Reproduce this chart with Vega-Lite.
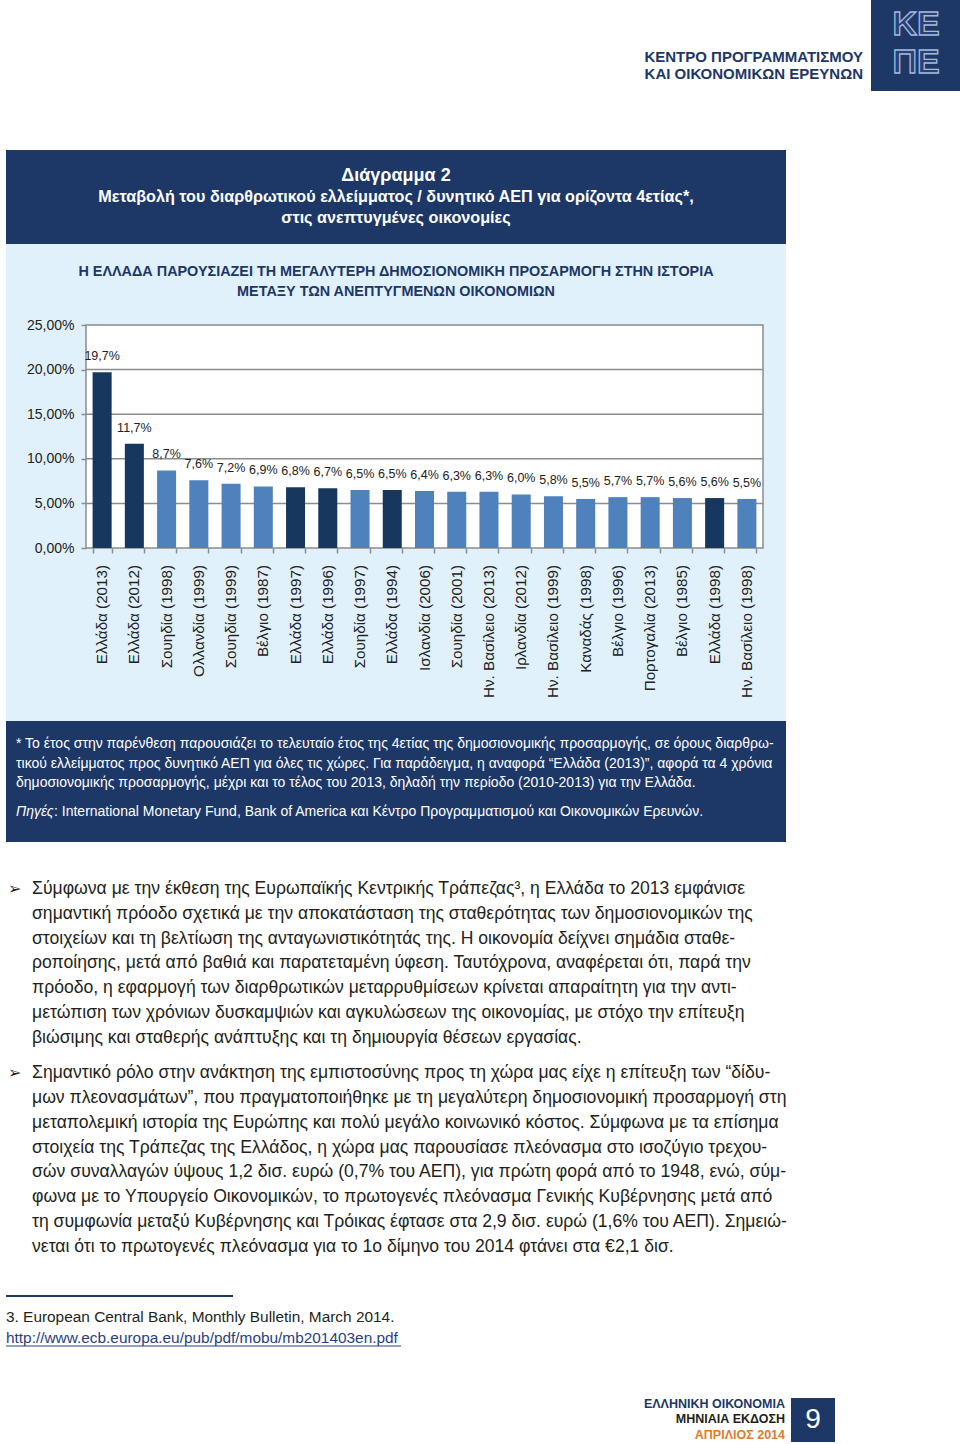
{
  "$schema": "https://vega.github.io/schema/vega-lite/v6.json",
  "background": "white",
  "padding": {"left": 5, "top": 0, "right": 0, "bottom": 0},
  "config": {
    "view": {"stroke": null},
    "concat": {"spacing": 0},
    "font": "Liberation Sans",
    "locale": {"number": {"decimal": ",", "thousands": ".", "grouping": [3], "currency": ["", " €"]}}
  },
  "datasets": {
    "org": [
      {"line": 1, "text": "ΚΕΝΤΡΟ ΠΡΟΓΡΑΜΜΑΤΙΣΜΟΥ"},
      {"line": 2, "text": "ΚΑΙ ΟΙΚΟΝΟΜΙΚΩΝ ΕΡΕΥΝΩΝ"}
    ],
    "logo": [
      {"line": 1, "text": "ΚΕ"},
      {"line": 2, "text": "ΠΕ"}
    ],
    "header": [
      {"line": 1, "text": "Διάγραμμα 2"},
      {"line": 2, "text": "Μεταβολή του διαρθρωτικού ελλείμματος / δυνητικό ΑΕΠ για ορίζοντα 4ετίας*,"},
      {"line": 3, "text": "στις ανεπτυγμένες οικονομίες"}
    ],
    "subtitle": [
      {"line": 1, "text": "Η ΕΛΛΑΔΑ ΠΑΡΟΥΣΙΑΖΕΙ ΤΗ ΜΕΓΑΛΥΤΕΡΗ ΔΗΜΟΣΙΟΝΟΜΙΚΗ ΠΡΟΣΑΡΜΟΓΗ ΣΤΗΝ ΙΣΤΟΡΙΑ"},
      {"line": 2, "text": "ΜΕΤΑΞΥ ΤΩΝ ΑΝΕΠΤΥΓΜΕΝΩΝ ΟΙΚΟΝΟΜΙΩΝ"}
    ],
    "gridvals": [
      {"value": 0.05},
      {"value": 0.1},
      {"value": 0.15},
      {"value": 0.2}
    ],
    "bars": [
      {"label": "Ελλάδα (2013)", "value": 0.197, "group": "Ελλάδα"},
      {"label": "Ελλάδα (2012)", "value": 0.117, "group": "Ελλάδα"},
      {"label": "Σουηδία (1998)", "value": 0.087, "group": "Άλλες χώρες"},
      {"label": "Ολλανδία (1999)", "value": 0.076, "group": "Άλλες χώρες"},
      {"label": "Σουηδία (1999)", "value": 0.072, "group": "Άλλες χώρες"},
      {"label": "Βέλγιο (1987)", "value": 0.069, "group": "Άλλες χώρες"},
      {"label": "Ελλάδα (1997)", "value": 0.068, "group": "Ελλάδα"},
      {"label": "Ελλάδα (1996)", "value": 0.067, "group": "Ελλάδα"},
      {"label": "Σουηδία (1997)", "value": 0.065, "group": "Άλλες χώρες"},
      {"label": "Ελλάδα (1994)", "value": 0.065, "group": "Ελλάδα"},
      {"label": "Ισλανδία (2006)", "value": 0.064, "group": "Άλλες χώρες"},
      {"label": "Σουηδία (2001)", "value": 0.063, "group": "Άλλες χώρες"},
      {"label": "Ην. Βασίλειο (2013)", "value": 0.063, "group": "Άλλες χώρες"},
      {"label": "Ιρλανδία (2012)", "value": 0.060, "group": "Άλλες χώρες"},
      {"label": "Ην. Βασίλειο (1999)", "value": 0.058, "group": "Άλλες χώρες"},
      {"label": "Καναδάς (1998)", "value": 0.055, "group": "Άλλες χώρες"},
      {"label": "Βέλγιο (1996)", "value": 0.057, "group": "Άλλες χώρες"},
      {"label": "Πορτογαλία (2013)", "value": 0.057, "group": "Άλλες χώρες"},
      {"label": "Βέλγιο (1985)", "value": 0.056, "group": "Άλλες χώρες"},
      {"label": "Ελλάδα (1998)", "value": 0.056, "group": "Ελλάδα"},
      {"label": "Ην. Βασίλειο (1998)", "value": 0.055, "group": "Άλλες χώρες"}
    ],
    "notes": [
      {"line": 1, "text": "* Το έτος στην παρένθεση παρουσιάζει το τελευταίο έτος της 4ετίας της δημοσιονομικής προσαρμογής, σε όρους διαρθρω-"},
      {"line": 2, "text": "τικού ελλείμματος προς δυνητικό ΑΕΠ για όλες τις χώρες. Για παράδειγμα, η αναφορά “Ελλάδα (2013)”, αφορά τα 4 χρόνια"},
      {"line": 3, "text": "δημοσιονομικής προσαρμογής, μέχρι και το τέλος του 2013, δηλαδή την περίοδο (2010-2013) για την Ελλάδα."}
    ],
    "sources": [
      {"line": 4, "label": "Πηγές", "text": ": International Monetary Fund, Bank of America και Κέντρο Προγραμματισμού και Οικονομικών Ερευνών."}
    ],
    "para1": [
      {"line": 1, "text": "Σύμφωνα με την έκθεση της Ευρωπαϊκής Κεντρικής Τράπεζας³, η Ελλάδα το 2013 εμφάνισε"},
      {"line": 2, "text": "σημαντική πρόοδο σχετικά με την αποκατάσταση της σταθερότητας των δημοσιονομικών της"},
      {"line": 3, "text": "στοιχείων και τη βελτίωση της ανταγωνιστικότητάς της. Η οικονομία δείχνει  σημάδια σταθε-"},
      {"line": 4, "text": "ροποίησης, μετά από βαθιά και παρατεταμένη ύφεση. Ταυτόχρονα, αναφέρεται ότι, παρά την"},
      {"line": 5, "text": "πρόοδο, η εφαρμογή των διαρθρωτικών μεταρρυθμίσεων κρίνεται απαραίτητη για την αντι-"},
      {"line": 6, "text": "μετώπιση των χρόνιων δυσκαμψιών και αγκυλώσεων της οικονομίας, με στόχο την επίτευξη"},
      {"line": 7, "text": "βιώσιμης και σταθερής ανάπτυξης και τη δημιουργία θέσεων εργασίας."}
    ],
    "para2": [
      {"line": 1, "text": "Σημαντικό ρόλο στην ανάκτηση της εμπιστοσύνης προς τη χώρα μας είχε η επίτευξη των “δίδυ-"},
      {"line": 2, "text": "μων πλεονασμάτων”, που πραγματοποιήθηκε με τη μεγαλύτερη δημοσιονομική προσαρμογή στη"},
      {"line": 3, "text": "μεταπολεμική ιστορία της Ευρώπης και πολύ μεγάλο κοινωνικό κόστος. Σύμφωνα με τα επίσημα"},
      {"line": 4, "text": "στοιχεία της Τράπεζας της Ελλάδος, η χώρα μας παρουσίασε πλεόνασμα στο ισοζύγιο τρεχου-"},
      {"line": 5, "text": "σών συναλλαγών ύψους 1,2 δισ. ευρώ (0,7% του ΑΕΠ), για πρώτη φορά από το 1948, ενώ, σύμ-"},
      {"line": 6, "text": "φωνα με το Υπουργείο Οικονομικών, το πρωτογενές πλεόνασμα Γενικής Κυβέρνησης μετά από"},
      {"line": 7, "text": "τη συμφωνία μεταξύ Κυβέρνησης και Τρόικας έφτασε στα 2,9 δισ. ευρώ (1,6% του ΑΕΠ). Σημειώ-"},
      {"line": 8, "text": "νεται ότι το πρωτογενές πλεόνασμα για το 1ο δίμηνο του 2014 φτάνει στα €2,1 δισ."}
    ],
    "bullet": [
      {"line": 1, "text": "➢"}
    ],
    "refs": [
      {"line": 1, "kind": "ref", "text": "3. European Central Bank, Monthly Bulletin, March 2014."},
      {"line": 2, "kind": "url", "text": "http://www.ecb.europa.eu/pub/pdf/mobu/mb201403en.pdf"}
    ],
    "edition": [
      {"line": 1, "part": "τίτλος", "text": "ΕΛΛΗΝΙΚΗ ΟΙΚΟΝΟΜΙΑ"},
      {"line": 2, "part": "έκδοση", "text": "ΜΗΝΙΑΙΑ ΕΚΔΟΣΗ"},
      {"line": 3, "part": "μήνας", "text": "ΑΠΡΙΛΙΟΣ 2014"}
    ],
    "page": [
      {"page": "9"}
    ]
  },
  "spacing": 0,
  "vconcat": [
    {
      "spacing": 8,
      "hconcat": [
        {
          "width": 857,
          "height": 150,
          "data": {"name": "org"},
          "mark": {"type": "text", "align": "right", "baseline": "middle", "fontSize": 15, "fontWeight": "bold", "color": "#1d3767"},
          "encoding": {
            "x": {"datum": 1, "type": "quantitative", "scale": {"domain": [0, 1], "nice": false, "zero": false}, "axis": null},
            "y": {"field": "line", "type": "quantitative", "scale": {"domain": [-2.3529, 6.4706], "reverse": true, "nice": false, "zero": false}, "axis": null},
            "text": {"field": "text"}
          }
        },
        {
          "width": 90,
          "height": 91,
          "view": {"fill": "#1d3767", "stroke": null},
          "data": {"name": "logo"},
          "mark": {"type": "text", "align": "center", "baseline": "middle", "fontSize": 34, "fontWeight": "bold", "fill": "#25427a", "stroke": "#a8b7d8", "strokeWidth": 1.3},
          "encoding": {
            "y": {"field": "line", "type": "quantitative", "scale": {"domain": [0.342, 2.737], "reverse": true, "nice": false, "zero": false}, "axis": null},
            "text": {"field": "text"}
          }
        }
      ]
    },
    {
      "width": 780,
      "height": 94,
      "view": {"fill": "#1d3767", "stroke": null},
      "data": {"name": "header"},
      "encoding": {
        "y": {"field": "line", "type": "quantitative", "scale": {"domain": [-0.2381, 4.2381], "reverse": true, "nice": false, "zero": false}, "axis": null},
        "text": {"field": "text"}
      },
      "layer": [
        {
          "transform": [{"filter": "datum.line == 1"}],
          "mark": {"type": "text", "align": "center", "baseline": "middle", "fontSize": 18, "fontWeight": "bold", "color": "white"}
        },
        {
          "transform": [{"filter": "datum.line > 1"}],
          "mark": {"type": "text", "align": "center", "baseline": "middle", "fontSize": 16.2, "fontWeight": "bold", "color": "white"}
        }
      ]
    },
    {
      "width": 780,
      "height": 477,
      "view": {"fill": "#e0f1fb", "stroke": null},
      "resolve": {"scale": {"x": "independent", "y": "independent"}, "axis": {"x": "independent", "y": "independent"}},
      "layer": [
        {
          "data": {"name": "subtitle"},
          "mark": {"type": "text", "align": "center", "baseline": "middle", "fontSize": 14.4, "fontWeight": "bold", "color": "#1d3767"},
          "encoding": {
            "y": {"field": "line", "type": "quantitative", "scale": {"domain": [-0.4, 23.45], "reverse": true, "nice": false, "zero": false}, "axis": null},
            "text": {"field": "text"}
          }
        },
        {
          "data": {"values": [{}]},
          "mark": {"type": "rect", "fill": "white", "stroke": "#8c8c8c", "strokeWidth": 1.5},
          "encoding": {
            "x": {"datum": 0, "type": "quantitative", "scale": {"domain": [0, 1], "range": [80, 757], "nice": false, "zero": false}, "axis": null},
            "x2": {"datum": 1},
            "y": {"datum": 0, "type": "quantitative", "scale": {"domain": [0, 0.25], "range": [304, 81], "nice": false, "zero": false}, "axis": null},
            "y2": {"datum": 0.25}
          }
        },
        {
          "data": {"name": "gridvals"},
          "mark": {"type": "rule", "color": "#8c8c8c", "strokeWidth": 1.5},
          "encoding": {
            "x": {"datum": 0, "type": "quantitative", "scale": {"domain": [0, 1], "range": [80, 757], "nice": false, "zero": false}, "axis": null},
            "x2": {"datum": 1},
            "y": {"field": "value", "type": "quantitative", "scale": {"domain": [0, 0.25], "range": [304, 81], "nice": false, "zero": false}, "axis": null}
          }
        },
        {
          "data": {"name": "bars"},
          "mark": {"type": "bar"},
          "encoding": {
            "x": {
              "field": "label",
              "type": "nominal",
              "sort": null,
              "scale": {"type": "band", "range": [80, 757], "paddingInner": 0.41, "paddingOuter": 0.205},
              "axis": {
                "orient": "bottom",
                "offset": -173,
                "title": null,
                "domain": false,
                "labels": false,
                "tickSize": 5,
                "tickColor": "#8c8c8c",
                "tickWidth": 1.5,
                "tickBand": "extent"
              }
            },
            "y": {
              "field": "value",
              "type": "quantitative",
              "scale": {"domain": [0, 0.25], "range": [304, 81], "nice": false, "zero": false},
              "axis": {
                "orient": "left",
                "offset": -80,
                "values": [0, 0.05, 0.1, 0.15, 0.2, 0.25],
                "format": ".2%",
                "title": null,
                "domain": false,
                "grid": false,
                "tickSize": 5,
                "tickColor": "#8c8c8c",
                "tickWidth": 1.5,
                "labelFontSize": 14,
                "labelColor": "#222222",
                "labelPadding": 7
              }
            },
            "color": {"field": "group", "type": "nominal", "scale": {"domain": ["Ελλάδα", "Άλλες χώρες"], "range": ["#17375e", "#4f81bd"]}, "legend": null}
          }
        },
        {
          "data": {"name": "bars"},
          "mark": {"type": "text", "align": "center", "baseline": "middle", "dy": -16, "fontSize": 12.5, "color": "#222222"},
          "encoding": {
            "x": {"field": "label", "type": "nominal", "sort": null, "scale": {"type": "band", "range": [80, 757], "paddingInner": 0.41, "paddingOuter": 0.205}, "axis": null},
            "y": {"field": "value", "type": "quantitative", "scale": {"domain": [0, 0.25], "range": [304, 81], "nice": false, "zero": false}, "axis": null},
            "text": {"field": "value", "type": "quantitative", "format": ".1%"}
          }
        },
        {
          "data": {"name": "bars"},
          "mark": {"type": "text", "angle": 270, "align": "right", "baseline": "middle", "dx": -17, "fontSize": 15.2, "color": "#222222"},
          "encoding": {
            "x": {"field": "label", "type": "nominal", "sort": null, "scale": {"type": "band", "range": [80, 757], "paddingInner": 0.41, "paddingOuter": 0.205}, "axis": null},
            "y": {"datum": 0, "type": "quantitative", "scale": {"domain": [0, 0.25], "range": [304, 81], "nice": false, "zero": false}, "axis": null},
            "text": {"field": "label"}
          }
        }
      ]
    },
    {
      "width": 780,
      "height": 121,
      "view": {"fill": "#1d3767", "stroke": null},
      "encoding": {
        "x": {"datum": 0, "type": "quantitative", "scale": {"domain": [0, 1], "nice": false, "zero": false}, "axis": null},
        "y": {"field": "line", "type": "quantitative", "scale": {"domain": [-0.1795, 6.0256], "reverse": true, "nice": false, "zero": false}, "axis": null}
      },
      "layer": [
        {
          "data": {"name": "notes"},
          "mark": {"type": "text", "align": "left", "baseline": "middle", "dx": 10, "fontSize": 14, "color": "white"},
          "encoding": {"text": {"field": "text"}}
        },
        {
          "data": {"name": "sources"},
          "mark": {"type": "text", "align": "left", "baseline": "middle", "dx": 10, "dy": 9.5, "fontSize": 14, "fontStyle": "italic", "color": "white"},
          "encoding": {"text": {"field": "label"}}
        },
        {
          "data": {"name": "sources"},
          "mark": {"type": "text", "align": "left", "baseline": "middle", "dx": 48, "dy": 9.5, "fontSize": 14, "color": "white"},
          "encoding": {"text": {"field": "text"}}
        }
      ]
    },
    {
      "hconcat": [
        {
          "width": 26,
          "height": 214,
          "data": {"name": "bullet"},
          "mark": {"type": "text", "align": "left", "baseline": "middle", "dx": 2, "fontSize": 16, "font": "DejaVu Sans", "color": "#231f20"},
          "encoding": {
            "x": {"datum": 0, "type": "quantitative", "scale": {"domain": [0, 1], "nice": false, "zero": false}, "axis": null},
            "y": {"field": "line", "type": "quantitative", "scale": {"domain": [-0.8929, 7.7257], "reverse": true, "nice": false, "zero": false}, "axis": null},
            "text": {"field": "text"}
          }
        },
        {
          "width": 754,
          "height": 214,
          "data": {"name": "para1"},
          "mark": {"type": "text", "align": "left", "baseline": "middle", "fontSize": 17.6, "color": "#231f20"},
          "encoding": {
            "x": {"datum": 0, "type": "quantitative", "scale": {"domain": [0, 1], "nice": false, "zero": false}, "axis": null},
            "y": {"field": "line", "type": "quantitative", "scale": {"domain": [-0.8929, 7.7257], "reverse": true, "nice": false, "zero": false}, "axis": null},
            "text": {"field": "text"}
          }
        }
      ]
    },
    {
      "hconcat": [
        {
          "width": 26,
          "height": 214,
          "data": {"name": "bullet"},
          "mark": {"type": "text", "align": "left", "baseline": "middle", "dx": 2, "fontSize": 16, "font": "DejaVu Sans", "color": "#231f20"},
          "encoding": {
            "x": {"datum": 0, "type": "quantitative", "scale": {"domain": [0, 1], "nice": false, "zero": false}, "axis": null},
            "y": {"field": "line", "type": "quantitative", "scale": {"domain": [0.3162, 8.9244], "reverse": true, "nice": false, "zero": false}, "axis": null},
            "text": {"field": "text"}
          }
        },
        {
          "width": 754,
          "height": 214,
          "data": {"name": "para2"},
          "mark": {"type": "text", "align": "left", "baseline": "middle", "fontSize": 17.6, "color": "#231f20"},
          "encoding": {
            "x": {"datum": 0, "type": "quantitative", "scale": {"domain": [0, 1], "nice": false, "zero": false}, "axis": null},
            "y": {"field": "line", "type": "quantitative", "scale": {"domain": [0.3162, 8.9244], "reverse": true, "nice": false, "zero": false}, "axis": null},
            "text": {"field": "text"}
          }
        }
      ]
    },
    {
      "width": 227,
      "height": 30,
      "data": {"values": [{}]},
      "mark": {"type": "rule", "color": "#1d3767", "strokeWidth": 2, "yOffset": 11},
      "encoding": {
        "x": {"datum": 0, "type": "quantitative", "scale": {"domain": [0, 1], "nice": false, "zero": false}, "axis": null},
        "x2": {"datum": 1}
      }
    },
    {
      "width": 395,
      "height": 97,
      "data": {"name": "refs"},
      "encoding": {
        "x": {"datum": 0, "type": "quantitative", "scale": {"domain": [0, 1], "nice": false, "zero": false}, "axis": null},
        "y": {"field": "line", "type": "quantitative", "scale": {"domain": [0.1905, 4.8095], "reverse": true, "nice": false, "zero": false}, "axis": null}
      },
      "layer": [
        {
          "transform": [{"filter": "datum.kind == 'ref'"}],
          "mark": {"type": "text", "align": "left", "baseline": "middle", "fontSize": 15.4, "color": "#231f20"},
          "encoding": {"text": {"field": "text"}}
        },
        {
          "transform": [{"filter": "datum.kind == 'url'"}],
          "mark": {"type": "text", "align": "left", "baseline": "middle", "fontSize": 15.4, "color": "#2b3f7e"},
          "encoding": {"text": {"field": "text"}}
        },
        {
          "transform": [{"filter": "datum.kind == 'url'"}],
          "mark": {"type": "rule", "color": "#2b3f7e", "strokeWidth": 1, "yOffset": 8},
          "encoding": {"x2": {"datum": 1}}
        }
      ]
    },
    {
      "spacing": 6,
      "hconcat": [
        {
          "width": 779,
          "height": 47,
          "data": {"name": "edition"},
          "encoding": {
            "x": {"datum": 1, "type": "quantitative", "scale": {"domain": [0, 1], "nice": false, "zero": false}, "axis": null},
            "y": {"field": "line", "type": "quantitative", "scale": {"domain": [0.6508, 3.6349], "reverse": true, "nice": false, "zero": false}, "axis": null},
            "text": {"field": "text"}
          },
          "layer": [
            {
              "transform": [{"filter": "datum.part == 'τίτλος'"}],
              "mark": {"type": "text", "align": "right", "baseline": "middle", "fontSize": 12.5, "fontWeight": "bold", "color": "#1d3767"}
            },
            {
              "transform": [{"filter": "datum.part == 'έκδοση'"}],
              "mark": {"type": "text", "align": "right", "baseline": "middle", "fontSize": 12.5, "fontWeight": "bold", "color": "#231f20"}
            },
            {
              "transform": [{"filter": "datum.part == 'μήνας'"}],
              "mark": {"type": "text", "align": "right", "baseline": "middle", "fontSize": 12.5, "fontWeight": "bold", "color": "#e07b2a"}
            }
          ]
        },
        {
          "width": 44,
          "height": 44,
          "view": {"fill": "#1d3767", "stroke": null},
          "data": {"name": "page"},
          "mark": {"type": "text", "align": "center", "baseline": "middle", "fontSize": 28, "color": "white"},
          "encoding": {"text": {"field": "page"}}
        }
      ]
    }
  ]
}
